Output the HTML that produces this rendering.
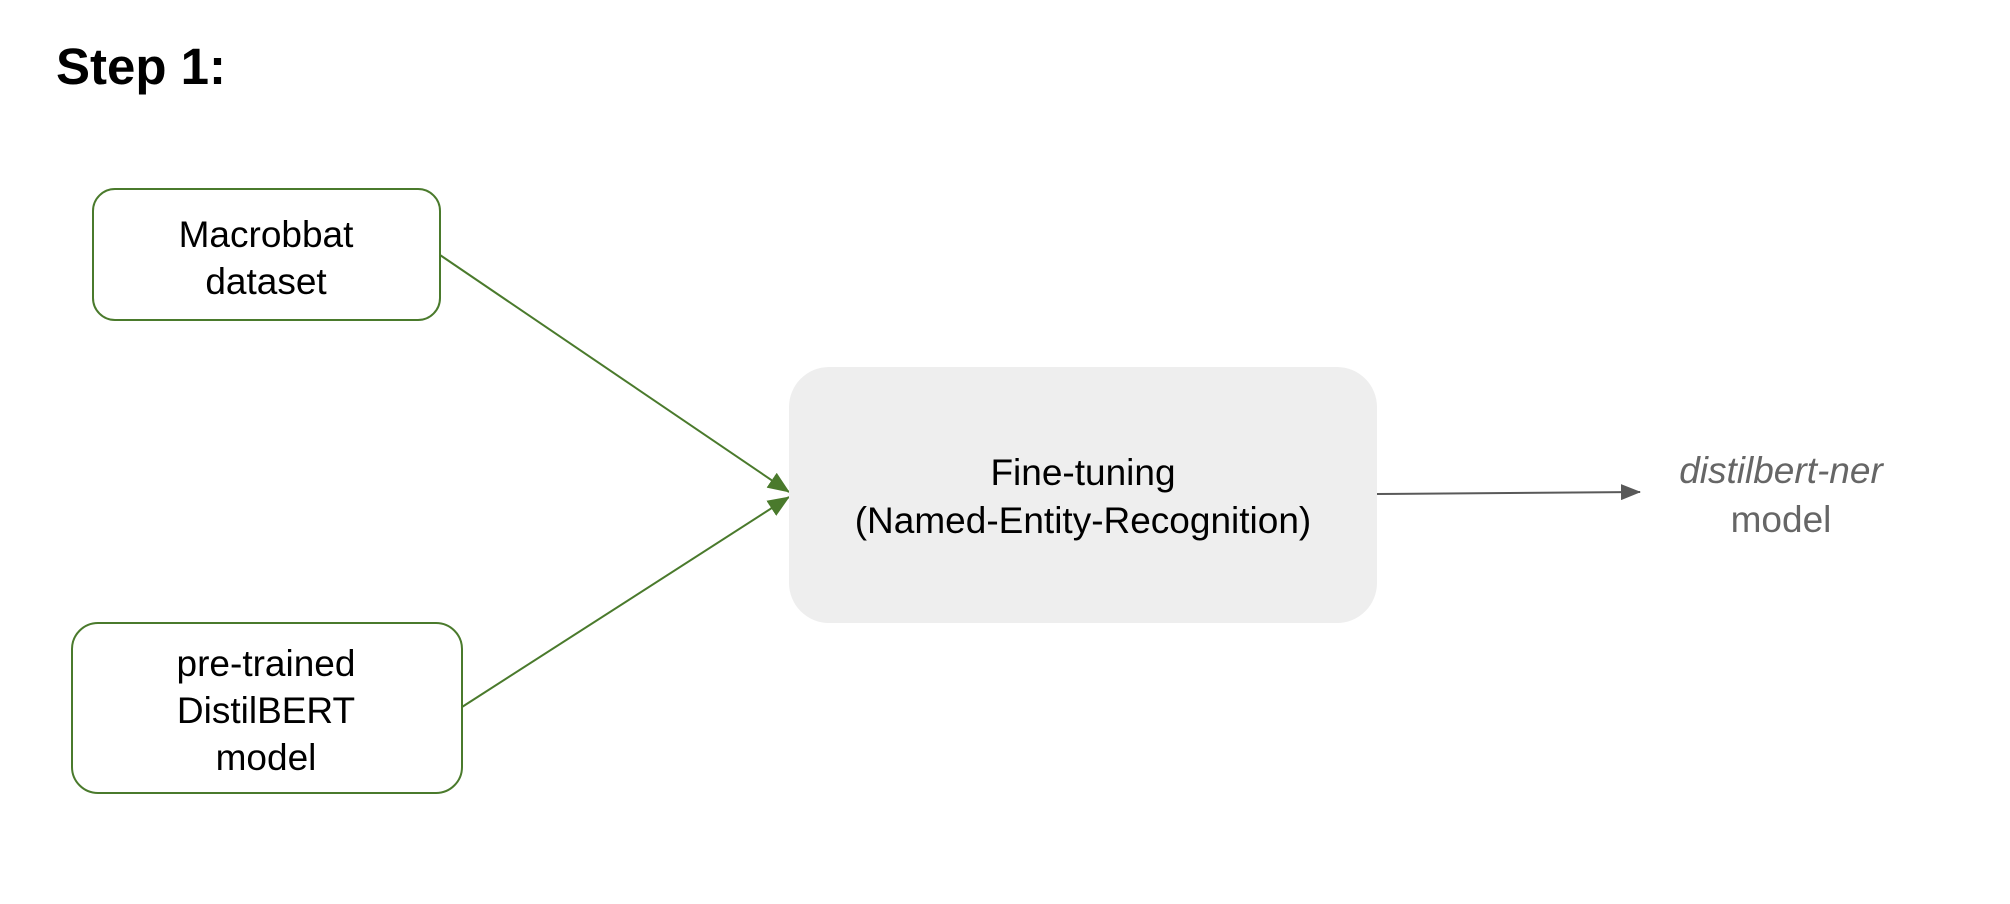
<!DOCTYPE html>
<html><head><meta charset="utf-8"><style>
html,body{margin:0;padding:0;background:#fff;}
body{width:2010px;height:904px;position:relative;overflow:hidden;font-family:"Liberation Sans",sans-serif;}
</style></head><body>
<svg width="2010" height="904" viewBox="0 0 2010 904" xmlns="http://www.w3.org/2000/svg" style="position:absolute;left:0;top:0">
<defs>
<marker id="ag2" markerWidth="22" markerHeight="18" refX="21" refY="9" orient="auto" markerUnits="userSpaceOnUse"><path d="M0,0 L22,9 L0,18 z" fill="#4a7a2c"/></marker>
<marker id="agr" markerWidth="20" markerHeight="16" refX="19" refY="8" orient="auto" markerUnits="userSpaceOnUse"><path d="M0,0 L20,8 L0,16 z" fill="#595959"/></marker>
</defs>
<text x="56" y="84" font-family="Liberation Sans, sans-serif" font-weight="bold" font-size="51" fill="#000">Step 1:</text>
<rect x="93" y="189" width="347" height="131" rx="22" fill="#fff" stroke="#4a7a2c" stroke-width="2"/>
<text font-size="37" fill="#000" text-anchor="middle"><tspan x="266" y="247">Macrobbat</tspan><tspan x="266" y="294">dataset</tspan></text>
<rect x="72" y="623" width="390" height="170" rx="26" fill="#fff" stroke="#4a7a2c" stroke-width="2"/>
<text font-size="37" fill="#000" text-anchor="middle"><tspan x="266" y="676">pre-trained</tspan><tspan x="266" y="723">DistilBERT</tspan><tspan x="266" y="770">model</tspan></text>
<line x1="440" y1="255" x2="789" y2="492" stroke="#4a7a2c" stroke-width="2" marker-end="url(#ag2)"/>
<line x1="462" y1="707" x2="789" y2="497" stroke="#4a7a2c" stroke-width="2" marker-end="url(#ag2)"/>
<rect x="789" y="367" width="588" height="256" rx="40" fill="#eeeeee"/>
<text font-size="37" fill="#000" text-anchor="middle"><tspan x="1083" y="485">Fine-tuning</tspan><tspan x="1083" y="533">(Named-Entity-Recognition)</tspan></text>
<line x1="1377" y1="494" x2="1640" y2="492" stroke="#595959" stroke-width="2" marker-end="url(#agr)"/>
<text font-size="37" fill="#666" text-anchor="middle"><tspan x="1781" y="483" font-style="italic">distilbert-ner</tspan><tspan x="1781" y="532">model</tspan></text>
</svg>
</body></html>
